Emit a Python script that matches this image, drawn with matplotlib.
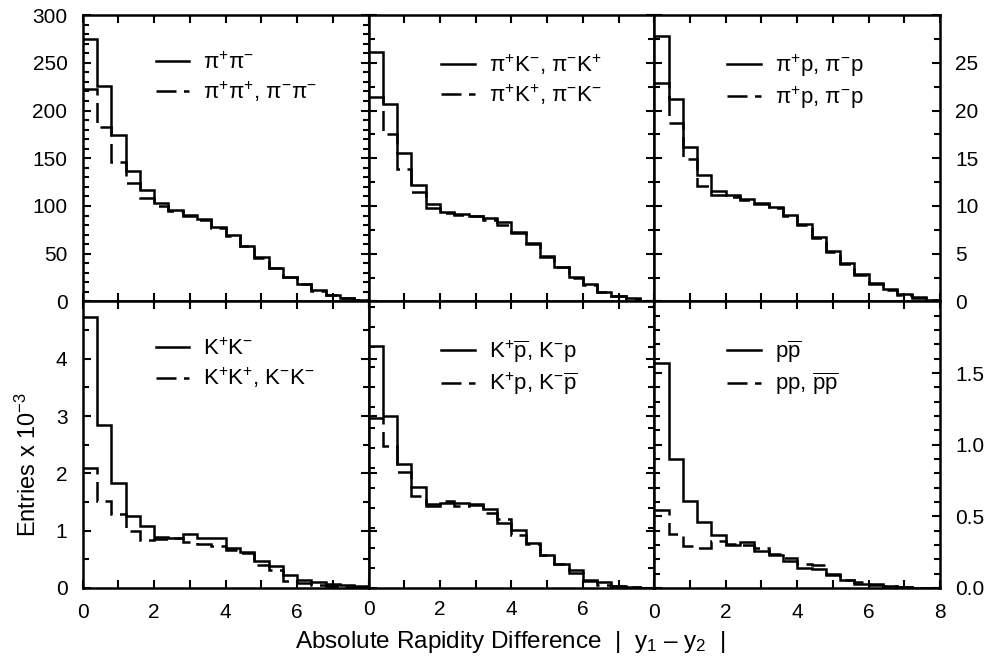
import numpy as np
import matplotlib
matplotlib.use('Agg')
import matplotlib.pyplot as plt
from matplotlib.ticker import MultipleLocator, FixedLocator

plt.rcParams['font.family'] = ['Liberation Sans', 'DejaVu Sans']
plt.rcParams['mathtext.fontset'] = 'custom'
plt.rcParams['mathtext.rm'] = 'Liberation Sans'
plt.rcParams['mathtext.it'] = 'Liberation Sans'
plt.rcParams['mathtext.default'] = 'regular'

# bin edges of |y1 - y2|
bin_edges = np.arange(0, 8.01, 0.4)

# top row (entries), bottom row (entries x 10^-3)
pipi_os = [275, 226, 174, 137, 117, 103, 96, 91, 86, 78, 70, 58, 47, 35, 26, 18, 12, 7, 3.5, 1.4]
pipi_ss = [223, 183, 146, 124, 108, 100, 95, 90, 85, 77, 69, 58, 46, 35, 26, 18, 11.5, 6.5, 3.2, 1.2]

piK_os = [261, 207, 156, 122, 102, 94, 92, 90, 87, 83, 73, 61, 48, 36.5, 25.5, 18, 10, 6, 3.5, 1.0]
piK_ss = [214, 175, 139, 115, 98, 93, 91, 89, 85, 80, 72, 60, 47, 36, 25, 17, 10, 5.5, 3.0, 0.8]

pip_os = [27.8, 21.2, 16.2, 13.2, 11.6, 11.1, 10.7, 10.3, 9.9, 9.1, 8.1, 6.8, 5.3, 4.0, 2.9, 1.9, 1.3, 0.8, 0.5, 0.2]
pip_ss = [22.9, 18.7, 14.9, 12.1, 11.2, 10.9, 10.6, 10.2, 9.8, 8.9, 8.0, 6.7, 5.2, 3.9, 2.8, 1.8, 1.2, 0.7, 0.4, 0.15]

KK_os = [4.73, 2.85, 1.84, 1.26, 1.09, 0.89, 0.88, 0.95, 0.87, 0.87, 0.70, 0.63, 0.47, 0.38, 0.23, 0.146, 0.10, 0.076, 0.047, 0.03]
KK_ss = [2.10, 1.52, 1.285, 1.0, 0.835, 0.85, 0.876, 0.80, 0.76, 0.73, 0.67, 0.61, 0.40, 0.32, 0.13, 0.088, 0.058, 0.04, 0.02, 0.01]

Kp_os = [4.22, 3.01, 2.17, 1.77, 1.43, 1.49, 1.48, 1.46, 1.38, 1.14, 1.02, 0.79, 0.58, 0.42, 0.32, 0.146, 0.10, 0.04, 0.018, 0.005]
Kp_ss = [2.97, 2.47, 2.02, 1.61, 1.46, 1.52, 1.43, 1.45, 1.31, 1.20, 0.93, 0.76, 0.58, 0.41, 0.26, 0.117, 0.058, 0.03, 0.012, 0.004]

pp_os = [1.57, 0.90, 0.61, 0.46, 0.37, 0.30, 0.32, 0.26, 0.23, 0.19, 0.139, 0.134, 0.10, 0.053, 0.03, 0.023, 0.014, 0.007, 0.003, 0.001]
pp_ss = [0.545, 0.378, 0.296, 0.277, 0.33, 0.31, 0.30, 0.28, 0.24, 0.21, 0.17, 0.16, 0.09, 0.053, 0.04, 0.025, 0.014, 0.007, 0.003, 0.001]

labels_os = [r'$\pi^{+}\pi^{-}$', r'$\pi^{+}K^{-}$, $\pi^{-}K^{+}$', r'$\pi^{+}p$, $\pi^{-}p$',
             r'$K^{+}K^{-}$', r'$K^{+}\overline{p}$, $K^{-}p$', r'$p\overline{p}$']
labels_ss = [r'$\pi^{+}\pi^{+}$, $\pi^{-}\pi^{-}$', r'$\pi^{+}K^{+}$, $\pi^{-}K^{-}$', r'$\pi^{+}p$, $\pi^{-}p$',
             r'$K^{+}K^{+}$, $K^{-}K^{-}$', r'$K^{+}p$, $K^{-}\overline{p}$', r'$pp$, $\overline{p}\overline{p}$']

series_os = [pipi_os, piK_os, pip_os, KK_os, Kp_os, pp_os]
series_ss = [pipi_ss, piK_ss, pip_ss, KK_ss, Kp_ss, pp_ss]

ymax = [300, 300, 30, 5, 5, 2]
y_major = [50, 50, 5, 1, 1, 0.5]
y_minor = [10, 25, 2.5, 0.5, 0.35, 0.1]

fig, axes = plt.subplots(2, 3, figsize=(9.98, 6.64), dpi=100)
fig.subplots_adjust(left=0.0829, right=0.942, top=0.9774, bottom=0.1145, wspace=0, hspace=0)

for i, ax in enumerate(axes.flat):
    row, col = divmod(i, 3)
    ax.stairs(series_os[i], bin_edges, color='black', lw=1.8, baseline=None)
    ax.stairs(series_ss[i], bin_edges, color='black', lw=1.8, baseline=None, linestyle=(0, (8, 3)))
    ax.set_xlim(0, 8)
    ax.set_ylim(0, ymax[i])
    for s in ax.spines.values():
        s.set_linewidth(1.8)

    ax.xaxis.set_major_locator(MultipleLocator(2))
    ax.xaxis.set_minor_locator(MultipleLocator(1))
    ax.yaxis.set_major_locator(MultipleLocator(y_major[i]))
    ax.yaxis.set_minor_locator(MultipleLocator(y_minor[i]))
    ax.tick_params(which='both', direction='in', top=True, bottom=True, left=True, right=True,
                   labelbottom=False, labelleft=False, labelright=False, width=1.5, labelsize=15)
    ax.tick_params(which='major', length=6)
    ax.tick_params(which='minor', length=4)
    ax.tick_params(axis='x', which='minor', length=6)

    if row == 1:
        ax.tick_params(labelbottom=True, pad=9)
        xt = [0, 2, 4, 6, 8]
        ax.xaxis.set_major_locator(FixedLocator(xt))
        ax.set_xticklabels([str(t) if (t < 8 or col == 2) else '' for t in xt])

    yt = list(np.arange(0, ymax[i] + 1e-9, y_major[i]))
    if col == 0:
        ax.tick_params(labelleft=True, pad=11)
        ax.yaxis.set_major_locator(FixedLocator(yt))
        if row == 0:
            ax.set_yticklabels(['%d' % t for t in yt])
        else:
            ax.set_yticklabels(['%d' % t for t in yt[:-1]] + [''])
    if col == 2:
        ax.tick_params(labelright=True, pad=11)
        ax.yaxis.set_major_locator(FixedLocator(yt))
        if row == 0:
            ax.set_yticklabels(['%d' % t for t in yt[:-1]] + [''])
        else:
            ax.set_yticklabels(['%.1f' % t for t in yt[:-1]] + [''])

    ax.legend([labels_os[i], labels_ss[i]], loc='upper left', bbox_to_anchor=(0.255, 0.87),
              frameon=False, fontsize=16, handlelength=1.5, handletextpad=0.65,
              labelspacing=0.25, borderpad=0, borderaxespad=0)

fig.text(0.511, 0.033, r'Absolute Rapidity Difference  |  y$_1$ – y$_2$  |', ha='center', va='center', fontsize=17.5)
fig.text(0.028, 0.30, r'Entries x 10$^{-3}$', ha='center', va='center', rotation=90, fontsize=17)

plt.savefig('out.png', dpi=100)
